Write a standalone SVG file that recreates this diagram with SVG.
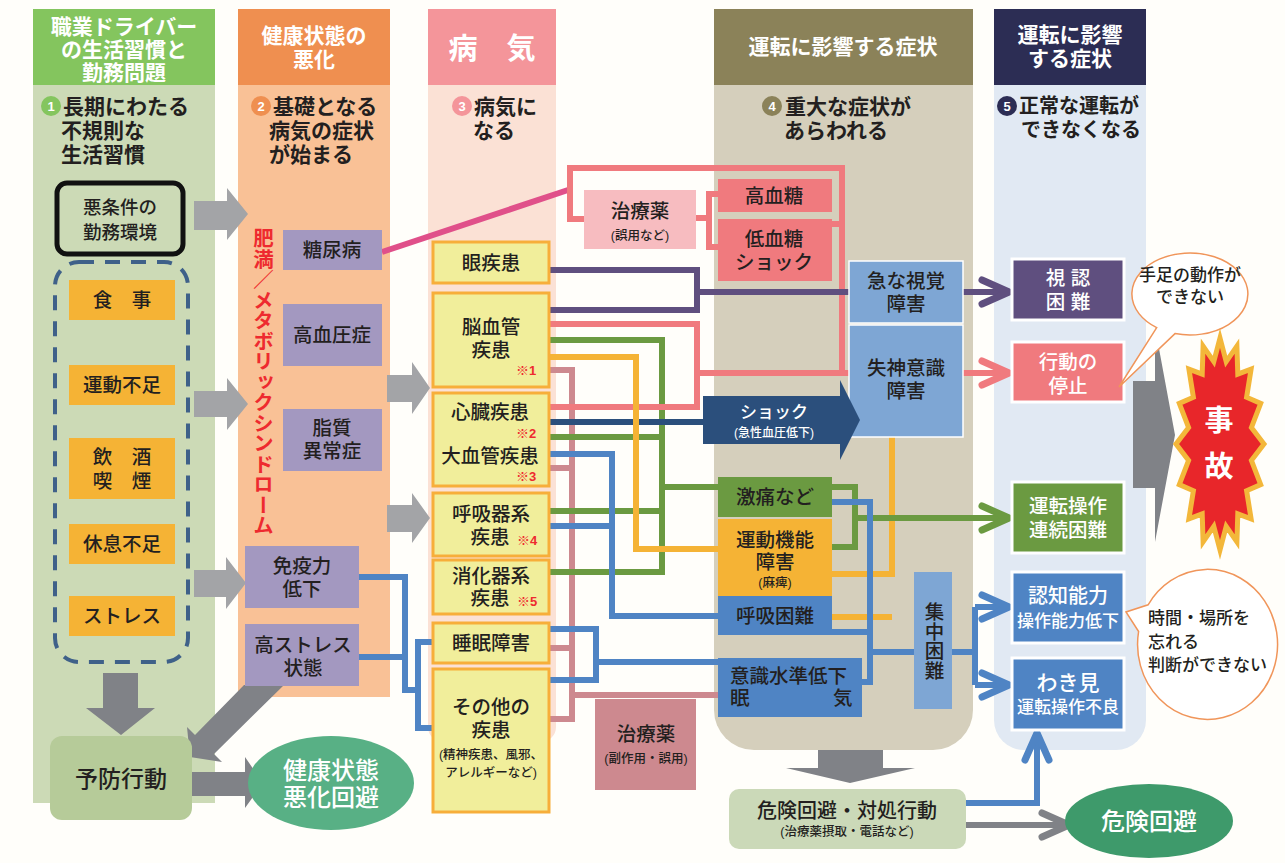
<svg xmlns="http://www.w3.org/2000/svg" width="1285" height="863" viewBox="0 0 1285 863">
<style>
text{font-family:"Liberation Sans","Noto Sans CJK JP","Noto Sans",sans-serif;dominant-baseline:central}
.hd{fill:#fff;font-weight:700;font-size:21px;text-anchor:middle}
.sub{fill:#231f20;font-weight:700;font-size:21px}
.num{fill:#fff;font-weight:700;font-size:13px;text-anchor:middle}
.t{fill:#231f20;font-size:19.5px;text-anchor:middle;font-weight:500}
.w{fill:#fff}
.s{font-size:12.5px}
.k{fill:#ee2a2f;font-weight:700;font-size:13px}
.ln{fill:none;stroke-width:6}
.pu{stroke:#5f4f7f}.pk{stroke:#f07a7e}.mg{stroke:#e0508a}.gr{stroke:#6b9a41}.or{stroke:#f5b335}.bl{stroke:#4f84c4}.nv{stroke:#2b4f7c}.mv{stroke:#cd898f}.gy{stroke:#808287}
.yb{fill:#f1ee9b;stroke:#f7ae3a;stroke-width:3}
.pb{fill:#a398c0}
.ob{fill:#f5b335}
.c5{stroke:#fff;stroke-width:3}
.ga{fill:#a3a4a7}
.gd{fill:#808287}
</style>
<defs>
<marker id="ah-pu" viewBox="-34 -17 38 34" refX="0" refY="0" markerWidth="38" markerHeight="34" markerUnits="userSpaceOnUse" orient="auto"><path d="M-27,-12 L0,0 L-27,12" fill="none" stroke="#5f4f7f" stroke-width="7" stroke-linecap="round" stroke-linejoin="round"/></marker>
<marker id="ah-pk" viewBox="-34 -17 38 34" refX="0" refY="0" markerWidth="38" markerHeight="34" markerUnits="userSpaceOnUse" orient="auto"><path d="M-27,-12 L0,0 L-27,12" fill="none" stroke="#f07a7e" stroke-width="7" stroke-linecap="round" stroke-linejoin="round"/></marker>
<marker id="ah-gr" viewBox="-34 -17 38 34" refX="0" refY="0" markerWidth="38" markerHeight="34" markerUnits="userSpaceOnUse" orient="auto"><path d="M-27,-12 L0,0 L-27,12" fill="none" stroke="#6b9a41" stroke-width="7" stroke-linecap="round" stroke-linejoin="round"/></marker>
<marker id="ah-bl" viewBox="-34 -17 38 34" refX="0" refY="0" markerWidth="38" markerHeight="34" markerUnits="userSpaceOnUse" orient="auto"><path d="M-27,-12 L0,0 L-27,12" fill="none" stroke="#4f84c4" stroke-width="7" stroke-linecap="round" stroke-linejoin="round"/></marker>
<marker id="ah-gy" viewBox="-34 -17 38 34" refX="0" refY="0" markerWidth="38" markerHeight="34" markerUnits="userSpaceOnUse" orient="auto"><path d="M-27,-12 L0,0 L-27,12" fill="none" stroke="#808287" stroke-width="7" stroke-linecap="round" stroke-linejoin="round"/></marker>
</defs>
<rect width="1285" height="863" fill="#fffefa"/>

<!-- columns -->
<g id="col1">
<rect x="33" y="85" width="182" height="718" fill="#ccdab6"/>
<rect x="33" y="9" width="182" height="76" fill="#84c55e"/>
<text class="hd"><tspan x="124" y="26">職業ドライバー</tspan><tspan x="124" y="49">の生活習慣と</tspan><tspan x="124" y="72">勤務問題</tspan></text>
<circle cx="51" cy="106" r="10" fill="#84c55e"/><text class="num" x="51" y="106">1</text>
<text class="sub"><tspan x="63" y="106">長期にわたる</tspan><tspan x="61" y="130">不規則な</tspan><tspan x="61" y="154">生活習慣</tspan></text>
</g>
<g id="col2">
<rect x="238" y="85" width="152" height="612" fill="#f9c196"/>
<rect x="238" y="9" width="152" height="76" fill="#ef8f50"/>
<text class="hd"><tspan x="314" y="35">健康状態の</tspan><tspan x="314" y="59">悪化</tspan></text>
<circle cx="261" cy="106" r="10" fill="#ef8f50"/><text class="num" x="261" y="106">2</text>
<text class="sub"><tspan x="273" y="106">基礎となる</tspan><tspan x="269" y="130">病気の症状</tspan><tspan x="269" y="154">が始まる</tspan></text>
<text x="262" y="228" style="writing-mode:vertical-rl;font-size:20.5px;font-weight:700;fill:#ee2a2f">肥満／メタボリックシンドローム</text>
</g>
<g id="col3">
<path d="M428,85 H556 V727 A15,15 0 0 1 541,742 H443 A15,15 0 0 1 428,727 Z" fill="#fbe1d5"/>
<rect x="428" y="9" width="128" height="76" fill="#f4959a"/>
<text class="hd" x="492" y="49" style="font-size:29px">病　気</text>
<circle cx="462" cy="106" r="10" fill="#f4959a"/><text class="num" x="462" y="106">3</text>
<text class="sub"><tspan x="474" y="106">病気に</tspan><tspan x="473" y="130">なる</tspan></text>
</g>
<g id="col4">
<path d="M714,85 H973 V710 A40,40 0 0 1 933,750 H754 A40,40 0 0 1 714,710 Z" fill="#d5cfbc"/>
<rect x="714" y="9" width="259" height="76" fill="#8b8259"/>
<text class="hd" x="843" y="46">運転に影響する症状</text>
<circle cx="772" cy="106" r="10" fill="#8b8259"/><text class="num" x="772" y="106">4</text>
<text class="sub"><tspan x="785" y="106">重大な症状が</tspan><tspan x="784" y="130">あらわれる</tspan></text>
</g>
<g id="col5">
<path d="M994,85 H1146 V720 A30,30 0 0 1 1116,750 H1024 A30,30 0 0 1 994,720 Z" fill="#e1e9f3"/>
<rect x="994" y="9" width="152" height="76" fill="#2c2d54"/>
<text class="hd"><tspan x="1070" y="34">運転に影響</tspan><tspan x="1070" y="58">する症状</tspan></text>
<circle cx="1007" cy="106" r="10" fill="#2c2d54"/><text class="num" x="1007" y="106">5</text>
<text class="sub" style="font-size:20px"><tspan x="1019" y="106">正常な運転が</tspan><tspan x="1021" y="130">できなくなる</tspan></text>
</g>

<!-- big block arrows -->
<g id="block-arrows">
<polygon class="ga" points="194,201 227,201 227,188 248,214 227,240 227,230 194,230"/>
<polygon class="ga" points="194,391 227,391 227,378 248,404 227,430 227,417 194,417"/>
<polygon class="ga" points="194,570 226,570 226,557 246,583 226,609 226,597 194,597"/>
<polygon class="ga" points="387,375 412,375 412,362 430,388 412,414 412,402 387,402"/>
<polygon class="ga" points="387,505 412,505 412,493 430,518 412,543 412,532 387,532"/>
<polygon class="gd" points="103,673 138,673 138,708 155,708 121,735 86,708 103,708"/>
<polygon class="gd" points="192,772 245,772 245,757 263,783 245,808 245,796 192,796"/>
<polygon class="gd" points="244,685 284,685 214,754 222,762 190,757 187,727 195,735"/>
<polygon class="gd" points="818,750 883,750 883,768 915,768 850,783 786,768 818,768"/>
<polygon class="gd" points="1133,381 1155,381 1155,327 1175,435 1155,542 1155,488 1133,488"/>
</g>

<g id="connectors">
<path class="ln mg" d="M382,252 L568,190"/>
<path class="ln pk" d="M584,219 H570 V168 H842 V373 M832,224 H842"/>
<path class="ln pk" d="M696,218 H709 M718,194 H709 V247 H718"/>
<path class="ln mv" d="M549,370 H572 V719 H549 M549,468 H572 M549,648 H572 M572,695 H718"/>
<path class="ln gr" d="M549,340 H662 V572 H549 M549,437 H662 M549,511 H662 M662,487 H718"/>
<path class="ln bl" d="M549,454 H612 V616 H718 M549,526 H612"/>
<path class="ln bl" d="M549,629 H596 V680 H549 M596,662 H718"/>
<path class="ln bl" d="M359,577 H405 V690 H418 M359,657 H405 M433,642 H418 V728 H433"/>
<path class="ln pk" d="M549,324 H697 V407 H549 M697,373 H849"/>
<path class="ln pu" d="M549,270 H697 V310 H549 M697,292 H849"/>
<path class="ln nv" d="M549,422 H705"/>
<path class="ln or" d="M549,357 H636 V549 H718"/>
<path class="ln or" d="M832,574 H892 V437 M832,617 H892"/>
<path class="ln gr" d="M832,487 H855 V547 H832"/>
<path class="ln gr" d="M855,518 H1009" marker-end="url(#ah-gr)"/>
<path class="ln bl" d="M832,502 H870 V682 H862 M832,632 H870 M870,652 H914 M952,652 H975 M975,607 V685"/>
<path class="ln bl" d="M975,607 H1009" marker-end="url(#ah-bl)"/>
<path class="ln bl" d="M975,685 H1009" marker-end="url(#ah-bl)"/>
<path class="ln pu" d="M963,292 H1009" marker-end="url(#ah-pu)"/>
<path class="ln pk" d="M963,373 H1009" marker-end="url(#ah-pk)"/>
<path class="ln bl" d="M966,803 H1037 V733" marker-end="url(#ah-bl)"/>
<path class="ln gy" d="M966,825 H1069" marker-end="url(#ah-gy)"/>
</g>

<!-- column 1 nodes -->
<g id="n-akujoken"><rect x="57" y="183" width="126" height="71" rx="10" fill="#ccdab6" stroke="#111" stroke-width="5"/><text class="t" style="font-size:18.5px"><tspan x="120" y="207">悪条件の</tspan><tspan x="120" y="232">勤務環境</tspan></text></g>
<g id="n-group"><rect x="55" y="262" width="133" height="400" rx="24" fill="none" stroke="#3f6189" stroke-width="4" stroke-dasharray="15 11"/></g>
<g id="n-shokuji"><rect class="ob" x="69" y="280" width="106" height="40"/><text class="t" x="122" y="300">食　事</text></g>
<g id="n-undobusoku"><rect class="ob" x="69" y="365" width="106" height="40"/><text class="t" x="122" y="385">運動不足</text></g>
<g id="n-inshu"><rect class="ob" x="69" y="438" width="106" height="61"/><text class="t"><tspan x="122" y="457">飲　酒</tspan><tspan x="122" y="481">喫　煙</tspan></text></g>
<g id="n-kyusoku"><rect class="ob" x="69" y="524" width="106" height="40"/><text class="t" x="122" y="544">休息不足</text></g>
<g id="n-stress"><rect class="ob" x="69" y="596" width="106" height="40"/><text class="t" x="122" y="616">ストレス</text></g>
<g id="n-yobo"><rect x="50" y="736" width="142" height="84" rx="12" fill="#b6cb99"/><text class="t" x="121" y="779" style="font-size:23px">予防行動</text></g>
<g id="n-kenko-kaihi"><ellipse cx="331" cy="783" rx="83" ry="47" fill="#58b085"/><text class="t w" style="font-size:24px"><tspan x="331" y="770">健康状態</tspan><tspan x="331" y="797">悪化回避</tspan></text></g>

<!-- column 2 nodes -->
<g id="n-tonyo"><rect class="pb" x="283" y="230" width="99" height="40"/><text class="t" x="332" y="250">糖尿病</text></g>
<g id="n-koketsuatsu"><rect class="pb" x="283" y="304" width="99" height="62"/><text class="t" x="332" y="335">高血圧症</text></g>
<g id="n-shishitsu"><rect class="pb" x="283" y="409" width="99" height="62"/><text class="t"><tspan x="332" y="428">脂質</tspan><tspan x="332" y="451">異常症</tspan></text></g>
<g id="n-meneki"><rect class="pb" x="245" y="546" width="114" height="62"/><text class="t"><tspan x="302" y="566">免疫力</tspan><tspan x="302" y="589">低下</tspan></text></g>
<g id="n-kostress"><rect class="pb" x="245" y="624" width="114" height="62"/><text class="t"><tspan x="303" y="645">高ストレス</tspan><tspan x="303" y="668">状態</tspan></text></g>

<!-- column 3 nodes -->
<g id="n-ganshikkan"><rect class="yb" x="433" y="242" width="116" height="41"/><text class="t" x="491" y="263">眼疾患</text></g>
<g id="n-nokekkan"><rect class="yb" x="433" y="293" width="116" height="94"/><text class="t"><tspan x="491" y="327">脳血管</tspan><tspan x="491" y="350">疾患</tspan><tspan class="k" x="526" y="370">※1</tspan></text></g>
<g id="n-shinzo"><rect class="yb" x="433" y="393" width="116" height="93"/><text class="t"><tspan x="490" y="412">心臓疾患</tspan><tspan class="k" x="526" y="433">※2</tspan><tspan x="490" y="456">大血管疾患</tspan><tspan class="k" x="526" y="476">※3</tspan></text></g>
<g id="n-kokyuki"><rect class="yb" x="433" y="493" width="116" height="63"/><text class="t"><tspan x="491" y="514">呼吸器系</tspan><tspan x="490" y="537">疾患</tspan><tspan class="k" x="527" y="540">※4</tspan></text></g>
<g id="n-shokaki"><rect class="yb" x="433" y="560" width="116" height="54"/><text class="t"><tspan x="491" y="576">消化器系</tspan><tspan x="490" y="598">疾患</tspan><tspan class="k" x="527" y="601">※5</tspan></text></g>
<g id="n-suimin"><rect class="yb" x="433" y="623" width="116" height="40"/><text class="t" x="491" y="643">睡眠障害</text></g>
<g id="n-sonota"><rect class="yb" x="433" y="669" width="116" height="143"/><text class="t"><tspan x="491" y="707">その他の</tspan><tspan x="491" y="730">疾患</tspan><tspan class="s" x="491" y="755">(精神疾患、風邪、</tspan><tspan class="s" x="491" y="773">アレルギーなど)</tspan></text></g>
<g id="n-chiryoyaku-goyo"><rect x="584" y="190" width="112" height="59" fill="#f7bcc0"/><text class="t"><tspan x="640" y="211">治療薬</tspan><tspan class="s" x="640" y="236">(誤用など)</tspan></text></g>
<g id="n-chiryoyaku-fuku"><rect x="595" y="699" width="101" height="91" fill="#cd898f"/><text class="t"><tspan x="646" y="734">治療薬</tspan><tspan class="s" x="646" y="759">(副作用・誤用)</tspan></text></g>

<!-- column 4 nodes -->
<g id="n-kokettou"><rect x="718" y="179" width="114" height="33" fill="#f07a7e"/><text class="t" x="774" y="196">高血糖</text></g>
<g id="n-teikettou"><rect x="718" y="219" width="114" height="62" fill="#f07a7e"/><text class="t"><tspan x="774" y="239">低血糖</tspan><tspan x="774" y="262">ショック</tspan></text></g>
<g id="n-shikaku"><rect x="849" y="261" width="114" height="62" fill="#7ea6d4" stroke="#fff" stroke-width="1.5"/><text class="t"><tspan x="906" y="281">急な視覚</tspan><tspan x="906" y="304">障害</tspan></text></g>
<g id="n-shisshin"><rect x="849" y="325" width="114" height="112" fill="#7ea6d4" stroke="#fff" stroke-width="1.5"/><text class="t"><tspan x="906" y="368">失神意識</tspan><tspan x="906" y="391">障害</tspan></text></g>
<g id="n-shock"><polygon points="703,396 840,396 840,380 860,420 840,460 840,444 703,444" fill="#2b4f7c"/><text class="t w"><tspan x="774" y="412" style="font-size:17px">ショック</tspan><tspan x="774" y="433" style="font-size:12px">(急性血圧低下)</tspan></text></g>
<g id="n-gekitsu"><rect x="718" y="477" width="114" height="40" fill="#6b9a41"/><text class="t" x="775" y="497">激痛など</text></g>
<g id="n-undokino"><rect x="718" y="519" width="114" height="77" fill="#f5b335"/><text class="t"><tspan x="775" y="540">運動機能</tspan><tspan x="775" y="562">障害</tspan><tspan class="s" x="775" y="583">(麻痺)</tspan></text></g>
<g id="n-kokyukonnan"><rect x="718" y="596" width="114" height="39" fill="#4f84c4"/><text class="t" x="775" y="616">呼吸困難</text></g>
<g id="n-ishiki"><rect x="718" y="658" width="144" height="59" fill="#4f84c4"/><text class="t" style="text-anchor:start"><tspan x="730" y="676">意識水準低下</tspan><tspan x="730" y="698">眠</tspan><tspan x="833" y="698">気</tspan></text></g>
<g id="n-shuchu"><rect x="914" y="572" width="38" height="137" fill="#7ea6d4"/><text class="t" x="933" y="641" style="writing-mode:vertical-rl">集中困難</text></g>
<g id="n-kiken-taisho"><rect x="729" y="789" width="237" height="60" rx="10" fill="#cbd9b8"/><text class="t"><tspan x="847" y="811" style="font-size:20px">危険回避・対処行動</tspan><tspan x="847" y="832" style="font-size:12.5px">(治療薬摂取・電話など)</tspan></text></g>
<g id="n-kiken-kaihi"><ellipse cx="1149" cy="821" rx="84" ry="37" fill="#3e9a6b"/><text class="t w" x="1149" y="821" style="font-size:24px">危険回避</text></g>

<!-- column 5 nodes -->
<g id="n-shinin"><rect class="c5" x="1012" y="259" width="112" height="61" fill="#5f4f7f"/><text class="t w"><tspan x="1068" y="278">視 認</tspan><tspan x="1068" y="302">困 難</tspan></text></g>
<g id="n-teishi"><rect class="c5" x="1012" y="342" width="112" height="60" fill="#f07a7e"/><text class="t w"><tspan x="1068" y="362">行動の</tspan><tspan x="1068" y="386">停止</tspan></text></g>
<g id="n-renzoku"><rect class="c5" x="1012" y="482" width="112" height="71" fill="#6b9a41"/><text class="t w"><tspan x="1068" y="506">運転操作</tspan><tspan x="1068" y="530">連続困難</tspan></text></g>
<g id="n-ninchi"><rect class="c5" x="1012" y="572" width="112" height="71" fill="#4f84c4"/><text class="t w"><tspan x="1068" y="596" style="font-size:20px">認知能力</tspan><tspan x="1068" y="621" style="font-size:17px">操作能力低下</tspan></text></g>
<g id="n-wakimi"><rect class="c5" x="1012" y="658" width="112" height="72" fill="#4f84c4"/><text class="t w"><tspan x="1068" y="682" style="font-size:21px">わき見</tspan><tspan x="1068" y="707" style="font-size:17px">運転操作不良</tspan></text></g>

<!-- bubbles and accident -->
<g id="n-bubble1"><path d="M1156.7,327.6 A58,41 0 1 1 1175,333.6 L1119,387 Z" fill="#fff" stroke="#f0955a" stroke-width="1.5"/><text class="t" style="font-size:17px"><tspan x="1190" y="275">手足の動作が</tspan><tspan x="1190" y="297">できない</tspan></text></g>
<g id="n-bubble2"><path d="M1148.1,604.8 A70,75 0 1 1 1138.6,631.5 L1126,612 Z" fill="#fff" stroke="#f0955a" stroke-width="1.5"/><text class="t" style="font-size:17px;text-anchor:start"><tspan x="1148" y="618">時間・場所を</tspan><tspan x="1148" y="642">忘れる</tspan><tspan x="1148" y="665">判断ができない</tspan></text></g>
<g id="n-jiko"><polygon points="1264,444 1251.4,427.6 1260.7,403.4 1246.6,397.3 1251.1,369.1 1237.8,374.2 1236.9,346.1 1226.2,361.6 1220,338 1213.8,361.6 1203.1,346.1 1202.2,374.2 1188.9,369.1 1193.4,397.3 1179.3,403.4 1188.6,427.6 1176,444 1188.6,460.4 1179.3,484.6 1193.4,490.7 1188.9,518.9 1202.2,513.8 1203.1,541.9 1213.8,526.4 1220,550 1226.2,526.4 1236.9,541.9 1237.8,513.8 1251.1,518.9 1246.6,490.7 1260.7,484.6 1251.4,460.4" fill="#e8262a" stroke="#f3b73a" stroke-width="5" stroke-linejoin="miter"/><text class="t w" style="font-size:29px;font-weight:700"><tspan x="1219" y="421">事</tspan><tspan x="1219" y="467">故</tspan></text></g>
</svg>
